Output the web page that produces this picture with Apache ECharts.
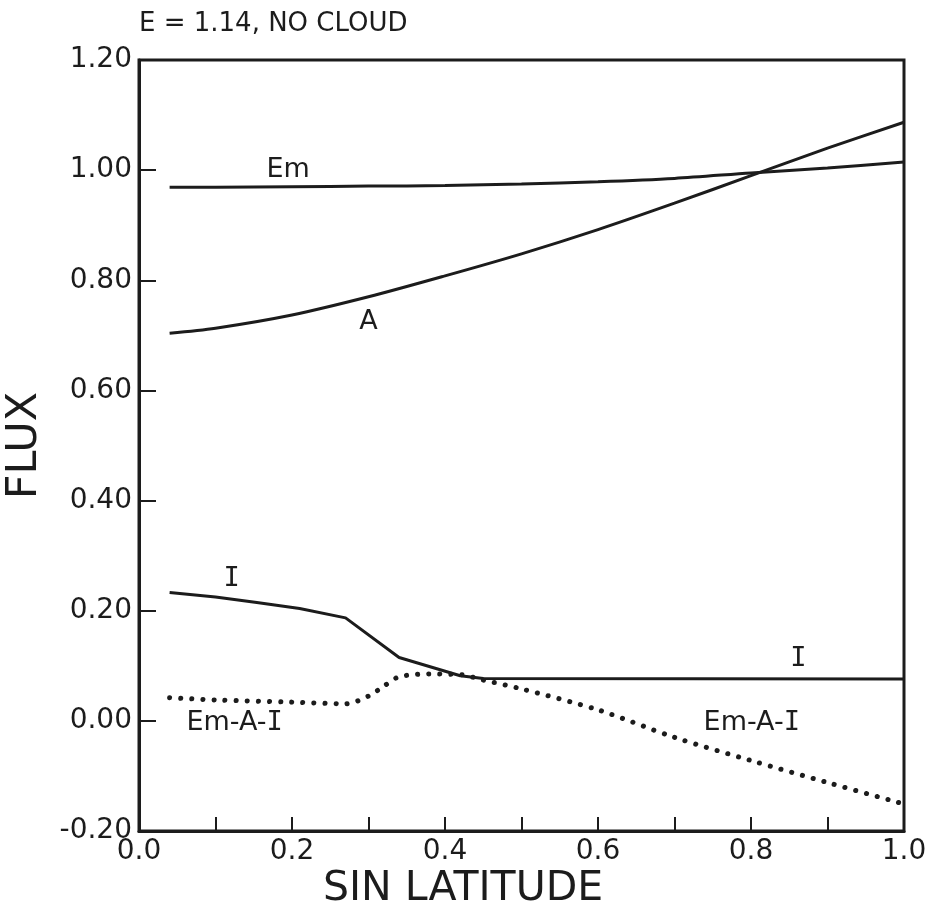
<!DOCTYPE html>
<html>
<head>
<meta charset="utf-8">
<script src="https://cdn.jsdelivr.net/npm/echarts@6/dist/echarts.min.js"></script>
<style>
  html, body { margin: 0; padding: 0; background: #fff; }
  #chart { width: 932px; height: 917px; }
</style>
</head>
<body>
<div id="chart"></div>
<script>
  // x = sin(latitude), y = flux
  let emX = [0.04, 0.1, 0.2, 0.3, 0.4, 0.5, 0.6, 0.7, 0.8, 0.9, 1.0]
  let emFlux = [0.969, 0.969, 0.970, 0.971, 0.972, 0.975, 0.979, 0.985, 0.995, 1.004, 1.015]

  let aX = [0.04, 0.1, 0.2, 0.3, 0.4, 0.5, 0.6, 0.7, 0.8, 0.9, 1.0]
  let aFlux = [0.704, 0.713, 0.737, 0.770, 0.808, 0.848, 0.892, 0.940, 0.990, 1.040, 1.087]

  let iX = [0.04, 0.1, 0.154, 0.21, 0.27, 0.34, 0.42, 0.45, 1.0]
  let iFlux = [0.233, 0.225, 0.215, 0.204, 0.187, 0.115, 0.082, 0.077, 0.076]

  let diffX = [0.04, 0.1, 0.2, 0.27, 0.3, 0.32, 0.34, 0.38, 0.42, 0.45, 0.5, 0.6, 0.7, 0.8, 0.9, 1.0]
  let diffFlux = [0.042, 0.038, 0.034, 0.031, 0.045, 0.063, 0.080, 0.085, 0.084, 0.074, 0.058, 0.020, -0.030, -0.072, -0.112, -0.151]

  let labelText = ['Em', 'A', 'I', 'I', 'Em-A-I', 'Em-A-I']
  let labelX = [0.195, 0.30, 0.121, 0.862, 0.125, 0.801]
  let labelY = [1.0, 0.724, 0.258, 0.113, -0.003, -0.003]

  let xTicks = [0.0, 0.2, 0.4, 0.6, 0.8, 1.0]

  const ink = '#1c1c1c'
  const font = 'DejaVu Sans'

  function pairs(xs, ys) {
    return xs.map((x, i) => [x, ys[i]])
  }

  function labelRich(s) {
    // the figure's I is drawn with serifs
    return s.replace(/I/g, '{i|I}')
  }

  let myChart = echarts.init(document.getElementById('chart'))
  let option = {
    animation: false,
    title: [
      {
        text: 'E = 1.14, NO CLOUD',
        left: 134,
        top: 6,
        textStyle: { fontFamily: font, fontSize: 26, fontWeight: 'normal', color: ink }
      },
      {
        // x axis caption sits left of the plot centre in the figure
        text: 'SIN LATITUDE',
        left: 318,
        top: 864,
        textStyle: { fontFamily: font, fontSize: 41, fontWeight: 'normal', color: ink }
      }
    ],
    grid: {
      left: 139,
      right: 28,
      top: 60,
      bottom: 86,
      outerBoundsMode: 'none',
      containLabel: false,
      show: true,
      borderColor: ink,
      borderWidth: 3,
      backgroundColor: '#fff'
    },
    xAxis: {
      type: 'value',
      min: 0,
      max: 1,
      interval: 0.1,
      axisLine: { onZero: false, lineStyle: { color: ink, width: 3 } },
      axisTick: { inside: true, length: 14, lineStyle: { color: ink, width: 2 } },
      splitLine: { show: false },
      axisLabel: {
        margin: 7,
        fontFamily: font,
        fontSize: 28,
        color: ink,
        formatter: function (v) {
          let hit = xTicks.some(t => Math.abs(t - v) < 1e-6)
          return hit ? v.toFixed(1) : ''
        }
      }
    },
    yAxis: {
      type: 'value',
      min: -0.2,
      max: 1.2,
      interval: 0.2,
      name: 'FLUX',
      nameLocation: 'middle',
      nameRotate: 90,
      nameGap: 93,
      nameTextStyle: { fontFamily: font, fontSize: 43, color: ink },
      axisLine: { lineStyle: { color: ink, width: 3 } },
      axisTick: { inside: true, length: 17, lineStyle: { color: ink, width: 2 } },
      splitLine: { show: false },
      axisLabel: {
        margin: 7,
        fontFamily: font,
        fontSize: 28,
        color: ink,
        formatter: v => v.toFixed(2)
      }
    },
    series: [
      {
        name: 'Em',
        type: 'line',
        data: pairs(emX, emFlux),
        showSymbol: false,
        smooth: 0.3,
        lineStyle: { color: ink, width: 3 }
      },
      {
        name: 'A',
        type: 'line',
        data: pairs(aX, aFlux),
        showSymbol: false,
        smooth: 0.3,
        lineStyle: { color: ink, width: 3 }
      },
      {
        name: 'I',
        type: 'line',
        data: pairs(iX, iFlux),
        showSymbol: false,
        lineStyle: { color: ink, width: 3 }
      },
      {
        name: 'Em-A-I',
        type: 'line',
        data: pairs(diffX, diffFlux),
        showSymbol: false,
        smooth: 0.3,
        lineStyle: { color: ink, width: 5, type: [0.1, 11], cap: 'round' }
      },
      {
        name: 'labels',
        type: 'scatter',
        symbolSize: 0,
        itemStyle: { opacity: 1 },
        data: labelX.map((x, i) => ({ value: [x, labelY[i]], name: labelText[i] })),
        label: {
          show: true,
          position: 'inside',
          opacity: 1,
          formatter: p => labelRich(p.name),
          fontFamily: font,
          fontSize: 27,
          color: ink,
          rich: {
            i: { fontFamily: 'DejaVu Sans Mono', fontSize: 27, color: ink }
          }
        }
      }
    ]
  }
  myChart.setOption(option)
</script>
</body>
</html>
